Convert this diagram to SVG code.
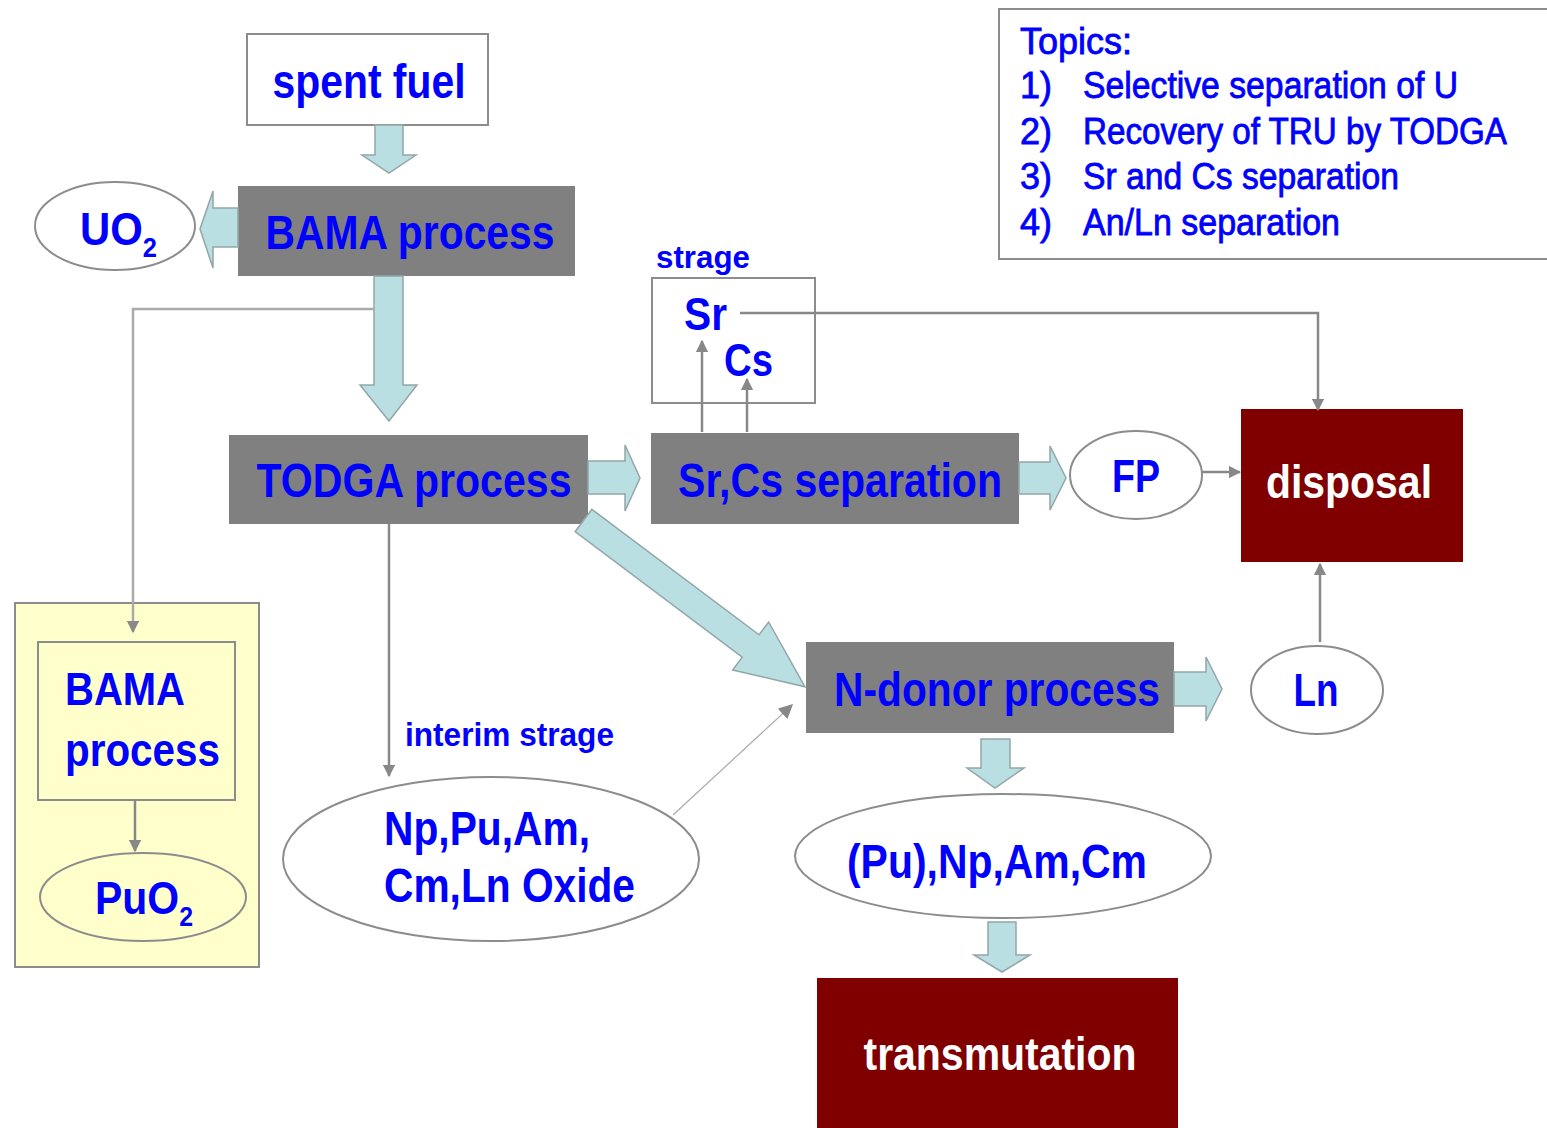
<svg xmlns="http://www.w3.org/2000/svg" width="1547" height="1128" viewBox="0 0 1547 1128">
<defs>
<marker id="ah" viewBox="0 0 10 10" refX="9" refY="5" markerWidth="5" markerHeight="5" orient="auto" markerUnits="strokeWidth">
<path d="M0,0 L10,5 L0,10 z" fill="#888"/>
</marker>
<marker id="ahs" viewBox="0 0 10 10" refX="9" refY="5" markerWidth="12" markerHeight="12" orient="auto" markerUnits="strokeWidth">
<path d="M0,0 L10,5 L0,10 z" fill="#888"/>
</marker>
<style>
.t{font-family:"Liberation Sans",Arial,sans-serif;font-weight:bold;fill:#0000ff;font-size:48px}
.w{fill:#ffffff}
.r{font-weight:normal;stroke:#0000ff;stroke-width:0.8}
.sub{font-size:28px}
.proc{fill:#808080}
.dark{fill:#800000}
.box{fill:#ffffff;stroke:#8c8c8c;stroke-width:2}
.yel{fill:#ffffcc;stroke:#8c8c8c;stroke-width:2}
.fat{fill:#b9dfe3;stroke:#93a6a8;stroke-width:1.5}
.ln{fill:none;stroke:#888;stroke-width:2.5}
</style>
</defs>
<rect width="1547" height="1128" fill="#ffffff"/>

<g id="spent-fuel">
<rect class="box" x="247" y="34" width="241" height="91"/>
<text class="t" x="369" y="98" text-anchor="middle" textLength="193" lengthAdjust="spacingAndGlyphs">spent fuel</text>
</g>

<g id="bama-process">
<rect class="proc" x="238" y="186" width="337" height="90"/>
<text class="t" x="410" y="249" text-anchor="middle" textLength="289" lengthAdjust="spacingAndGlyphs">BAMA process</text>
</g>

<g id="uo2">
<ellipse class="box" cx="115" cy="226" rx="80" ry="44"/>
<text class="t" x="80" y="245" style="font-size:46px" textLength="77" lengthAdjust="spacingAndGlyphs">UO<tspan class="sub" dy="12">2</tspan></text>
</g>

<g id="todga-process">
<rect class="proc" x="229" y="435" width="359" height="89"/>
<text class="t" x="414" y="497" text-anchor="middle" textLength="315" lengthAdjust="spacingAndGlyphs">TODGA process</text>
</g>

<g id="storage">
<text class="t" x="656" y="268" style="font-size:32px" textLength="94" lengthAdjust="spacingAndGlyphs">strage</text>
<rect class="box" x="652" y="278" width="163" height="125"/>
<text class="t" x="684" y="330" style="font-size:46px" textLength="43" lengthAdjust="spacingAndGlyphs">Sr</text>
<text class="t" x="724" y="376" style="font-size:46px" textLength="49" lengthAdjust="spacingAndGlyphs">Cs</text>
</g>

<g id="srcs-separation">
<rect class="proc" x="651" y="433" width="368" height="91"/>
<text class="t" x="840" y="497" text-anchor="middle" textLength="324" lengthAdjust="spacingAndGlyphs">Sr,Cs separation</text>
</g>

<g id="fp">
<ellipse class="box" cx="1136" cy="475" rx="66" ry="44"/>
<text class="t" x="1136" y="492" text-anchor="middle" style="font-size:46px" textLength="48" lengthAdjust="spacingAndGlyphs">FP</text>
</g>

<g id="disposal">
<rect class="dark" x="1241" y="409" width="222" height="153"/>
<text class="t w" x="1349" y="498" text-anchor="middle" style="font-size:46px" textLength="166" lengthAdjust="spacingAndGlyphs">disposal</text>
</g>

<g id="topics">
<rect x="999" y="9" width="560" height="250" fill="#ffffff" stroke="#8c8c8c" stroke-width="2"/>
<text class="t r" x="1020" y="54" style="font-size:36px" textLength="112" lengthAdjust="spacingAndGlyphs">Topics:</text>
<text class="t r" x="1020" y="98" style="font-size:36px">1)</text>
<text class="t r" x="1083" y="98" style="font-size:36px" textLength="375" lengthAdjust="spacingAndGlyphs">Selective separation of U</text>
<text class="t r" x="1020" y="144" style="font-size:36px">2)</text>
<text class="t r" x="1083" y="144" style="font-size:36px" textLength="424" lengthAdjust="spacingAndGlyphs">Recovery of TRU by TODGA</text>
<text class="t r" x="1020" y="189" style="font-size:36px">3)</text>
<text class="t r" x="1083" y="189" style="font-size:36px" textLength="316" lengthAdjust="spacingAndGlyphs">Sr and Cs separation</text>
<text class="t r" x="1020" y="235" style="font-size:36px">4)</text>
<text class="t r" x="1083" y="235" style="font-size:36px" textLength="257" lengthAdjust="spacingAndGlyphs">An/Ln separation</text>
</g>

<g id="n-donor-process">
<rect class="proc" x="806" y="642" width="368" height="91"/>
<text class="t" x="997" y="706" text-anchor="middle" textLength="326" lengthAdjust="spacingAndGlyphs">N-donor process</text>
</g>

<g id="ln">
<ellipse class="box" cx="1317" cy="690" rx="66" ry="44"/>
<text class="t" x="1316" y="706" text-anchor="middle" style="font-size:46px" textLength="45" lengthAdjust="spacingAndGlyphs">Ln</text>
</g>

<g id="interim-storage">
<text class="t" x="405" y="746" style="font-size:34px" textLength="209" lengthAdjust="spacingAndGlyphs">interim strage</text>
<ellipse class="box" cx="491" cy="859" rx="208" ry="82"/>
<text class="t" x="384" y="845" textLength="206" lengthAdjust="spacingAndGlyphs">Np,Pu,Am,</text>
<text class="t" x="384" y="902" textLength="251" lengthAdjust="spacingAndGlyphs">Cm,Ln Oxide</text>
</g>

<g id="pu-np-am-cm">
<ellipse class="box" cx="1003" cy="856" rx="208" ry="62"/>
<text class="t" x="997" y="878" text-anchor="middle" textLength="300" lengthAdjust="spacingAndGlyphs">(Pu),Np,Am,Cm</text>
</g>

<g id="transmutation">
<rect class="dark" x="817" y="978" width="361" height="155"/>
<text class="t w" x="1000" y="1070" text-anchor="middle" style="font-size:46px" textLength="273" lengthAdjust="spacingAndGlyphs">transmutation</text>
</g>

<g id="pu-recovery">
<rect class="yel" x="15" y="603" width="244" height="364"/>
<rect class="yel" x="38" y="642" width="197" height="158"/>
<text class="t" x="65" y="705" style="font-size:46px" textLength="120" lengthAdjust="spacingAndGlyphs">BAMA</text>
<text class="t" x="65" y="766" style="font-size:46px" textLength="155" lengthAdjust="spacingAndGlyphs">process</text>
<ellipse class="yel" cx="143" cy="897" rx="103" ry="44"/>
<text class="t" x="95" y="914" style="font-size:46px" textLength="98" lengthAdjust="spacingAndGlyphs">PuO<tspan class="sub" dy="12">2</tspan></text>
</g>

<g id="connectors">
<polygon class="fat" points="375,125 403,125 403,155 416,155 389,173 362,155 375,155"/>
<polygon class="fat" points="238,208 213,208 213,191 200,229 213,268 213,247 238,247"/>
<polygon class="fat" points="374,276 403,276 403,385 417,385 389,421 360,385 374,385"/>
<polygon class="fat" points="588,461 625,461 625,445 640,478 625,511 625,494 588,494"/>
<polygon class="fat" points="1019,462 1050,462 1050,446 1066,478 1050,510 1050,494 1019,494"/>
<polygon class="fat" points="1174,672 1206,672 1206,657 1222,689 1206,721 1206,706 1174,706"/>
<polygon class="fat" points="981,739 1010,739 1010,768 1024,768 995,788 967,768 981,768"/>
<polygon class="fat" points="988,922 1016,922 1016,955 1030,955 1002,972 974,955 988,955"/>
<polygon class="fat" transform="translate(583.5,520.5) rotate(36.9)" points="0,-14 209,-14 209,-30 277,0 209,30 209,14 0,14"/>
<path d="M374,309 H133 V632" fill="none" stroke="#aaa" stroke-width="2.5" marker-end="url(#ah)"/>
<path class="ln" d="M702,432 V341" marker-end="url(#ah)"/>
<path class="ln" d="M747,432 V379" marker-end="url(#ah)"/>
<path class="ln" d="M740,313 H1318 V410" marker-end="url(#ah)"/>
<path class="ln" d="M1202,472 H1240" marker-end="url(#ah)"/>
<path class="ln" d="M1320,642 V564" marker-end="url(#ah)"/>
<path class="ln" d="M389,524 V776" marker-end="url(#ah)"/>
<path d="M673,815 L792,705" fill="none" stroke="#aaa" stroke-width="1.2" marker-end="url(#ahs)"/>
<path class="ln" d="M135,800 V851" marker-end="url(#ah)"/>
</g>
</svg>
